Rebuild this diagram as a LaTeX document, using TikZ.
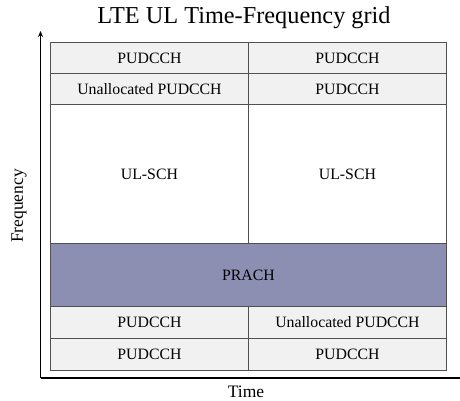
\documentclass[tikz,border=0pt]{standalone}
\usepackage{fontspec}
\setmainfont{Liberation Serif}
\usetikzlibrary{arrows.meta}
\definecolor{cellgray}{HTML}{F1F1F1}
\definecolor{prach}{HTML}{8C8FB2}
\definecolor{gridline}{HTML}{505050}
\begin{document}
\begin{tikzpicture}[x=1pt,y=-1pt,
  cell/.style={draw=gridline,line width=0.9pt,minimum width=198pt,inner sep=0pt,font=\fontsize{15.8}{17}\selectfont,anchor=north west},
  lbl/.style={font=\fontsize{17.5}{19}\selectfont}]
\useasboundingbox (0,0) rectangle (460,401);
\node[font=\fontsize{24.3}{26}\selectfont] (title) at (244,18) {LTE UL Time-Frequency grid};
% rows
\node[cell,fill=cellgray,minimum height=31pt] (a1) at (50,42) {PUDCCH};
\node[cell,fill=cellgray,minimum height=31pt] (a2) at (248,42) {PUDCCH};
\node[cell,fill=cellgray,minimum height=31pt] (b1) at (50,73) {Unallocated PUDCCH};
\node[cell,fill=cellgray,minimum height=31pt] (b2) at (248,73) {PUDCCH};
\node[cell,fill=white,minimum height=139pt] (c1) at (50,104) {UL-SCH};
\node[cell,fill=white,minimum height=139pt] (c2) at (248,104) {UL-SCH};
\node[cell,fill=prach,minimum height=63pt,minimum width=396pt] (p) at (50,243) {PRACH};
\node[cell,fill=cellgray,minimum height=32pt] (d1) at (50,306) {PUDCCH};
\node[cell,fill=cellgray,minimum height=32pt] (d2) at (248,306) {Unallocated PUDCCH};
\node[cell,fill=cellgray,minimum height=32pt] (e1) at (50,338) {PUDCCH};
\node[cell,fill=cellgray,minimum height=32pt] (e2) at (248,338) {PUDCCH};
% axes
\coordinate (o) at (40.5,378);
\coordinate (ytop) at (40.5,31);
\coordinate (xend) at (460,378);
\draw[line width=1.6pt,-{Stealth[length=6pt,width=5pt]}] (o) -- (ytop);
\draw[line width=1.6pt] (o) -- (xend);
\node[lbl] (time) at (246,392) {Time};
\node[lbl,rotate=90] (freq) at (19,206) {Frequency};
\end{tikzpicture}
\end{document}
